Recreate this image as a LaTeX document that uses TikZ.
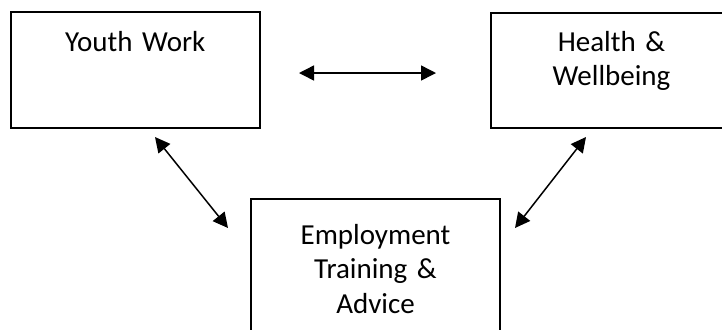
\documentclass[tikz,border=0pt]{standalone}
\usepackage{fontspec}
\setmainfont{Carlito}
\usetikzlibrary{arrows.meta}
\begin{document}
\begin{tikzpicture}[x=0.5pt,y=-0.5pt,
  box/.style={draw,line width=1pt,inner sep=0pt,anchor=north west,align=center,
    font=\fontsize{14.5}{17.4}\selectfont},
  link/.style={line width=0.75pt,
    {Triangle[length=7.5pt,width=7.5pt]}-{Triangle[length=7.5pt,width=7.5pt]}}]
  % Frame
  \clip (0,0) rectangle (722,329);

  % Boxes
  \node[box,text width=124.75pt,text height=19.5pt,text depth=38.5pt] (youth) at (9.5,11) {Youth Work};
  \node[box,text width=120.5pt,text height=19pt,text depth=38.5pt] (health) at (490,12) {Health \&\\Wellbeing};
  \node[box,text width=124.5pt,text height=22.5pt,text depth=47.5pt] (employ) at (250,198) {Employment\\Training \&\\Advice};

  % Arrow ends
  \coordinate (yhA) at (299,73);
  \coordinate (yhB) at (436,73);
  \coordinate (yeA) at (155,137);
  \coordinate (yeB) at (228,228);
  \coordinate (heA) at (586,137);
  \coordinate (heB) at (515,228);

  % Arrows
  \draw[link] (yhA) -- (yhB);
  \draw[link] (yeA) -- (yeB);
  \draw[link] (heA) -- (heB);
\end{tikzpicture}
\end{document}
